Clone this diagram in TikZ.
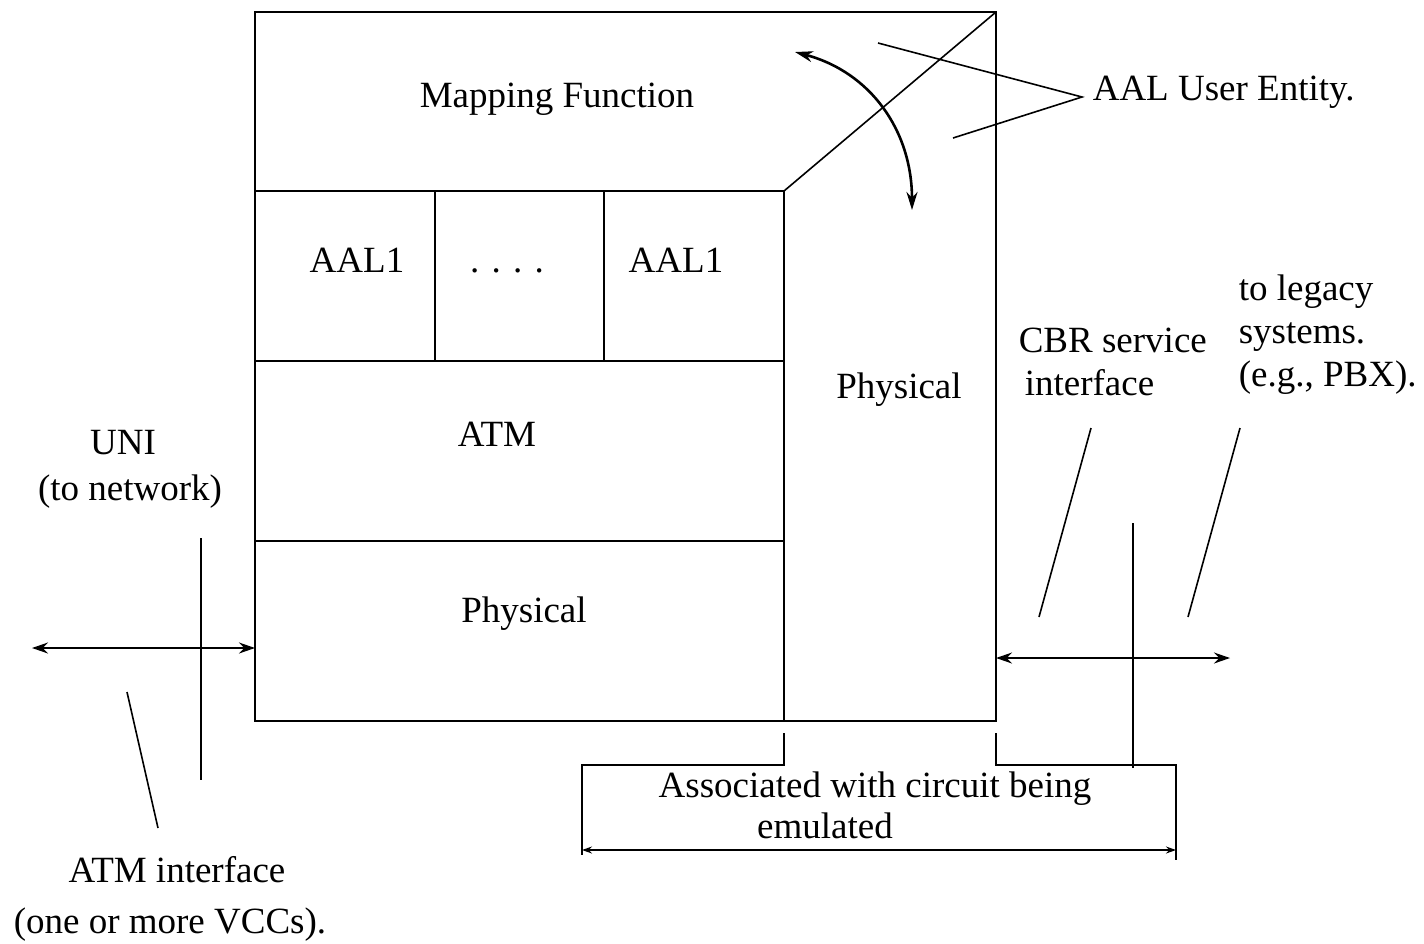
\documentclass[tikz,border=0pt]{standalone}
\usepackage{fontspec}
\setmainfont{Liberation Serif}
\usetikzlibrary{arrows.meta}
\begin{document}
\begin{tikzpicture}[x=1pt,y=-1pt,line width=1.6pt,
  lbl/.style={font=\fontsize{37}{44}\selectfont,inner sep=0pt},
  dbl/.style={{Stealth[length=16pt,width=11pt]}-{Stealth[length=16pt,width=11pt]}},
  curv/.style={line width=2.6pt,{Stealth[length=18pt,width=11pt]}-{Stealth[length=18pt,width=11pt]}},
  dim/.style={line width=1.4pt,{Stealth[length=10pt,width=7pt,open]}-{Stealth[length=10pt,width=7pt,open]}}]
\useasboundingbox (0,0) rectangle (1424,943);
% outer box and layers
\coordinate (tl) at (255,12);
\coordinate (br) at (996,721);
\coordinate (tr) at (996,12);
\coordinate (corner) at (784,191);
\draw (tl) rectangle (br);
\draw (255,191) -- (corner) -- (tr);
\draw (corner) -- (784,721);
\draw (255,361) -- (784,361);
\draw (255,541) -- (784,541);
\draw (435,191) -- (435,361);
\draw (604,191) -- (604,361);
% texts in boxes
\node[lbl,anchor=base] (map) at (557,107) {Mapping Function};
\node[lbl,anchor=base] (aal1a) at (357,272) {AAL1};
\node[lbl,anchor=base] (dots) at (507,272) {. . . .};
\node[lbl,anchor=base] (aal1b) at (676,272) {AAL1};
\node[lbl,anchor=base] (atm) at (497,446) {ATM};
\node[lbl,anchor=base] (phys) at (524,622) {Physical};
\node[lbl,anchor=base] (physr) at (899,398) {Physical};
% AAL user entity
\node[lbl,anchor=base west] (aue) at (1092,100) {AAL User Entity.};
\coordinate (auep) at (1082,97);
\coordinate (aue1) at (878,43);
\coordinate (aue2) at (953,138);
\draw (aue1) -- (auep) -- (aue2);
% curved arrow
\coordinate (ca) at (795,52);
\coordinate (cb) at (912,210);
\draw[curv] (ca) .. controls (870,72) and (912,130) .. (cb);
% left side
\node[lbl,anchor=base] (uni) at (123,454) {UNI};
\node[lbl,anchor=base] (tonet) at (130,500) {(to network)};
\coordinate (la) at (32,648);
\coordinate (lb) at (255,648);
\draw[dbl] (la) -- (lb);
\coordinate (lv1) at (201,538);
\coordinate (lv2) at (201,780);
\draw (lv1) -- (lv2);
\coordinate (ls1) at (127,692);
\coordinate (ls2) at (158,828);
\draw (ls1) -- (ls2);
\node[lbl,anchor=base] (atmif) at (177,882) {ATM interface};
\node[lbl,anchor=base] (vccs) at (170,933) {(one or more VCCs).};
% right side
\node[lbl,anchor=base west] (cbr) at (1018,352) {CBR service};
\node[lbl,anchor=base west] (cbrif) at (1024,395) {interface};
\node[lbl,anchor=base west] (leg1) at (1238,300) {to legacy};
\node[lbl,anchor=base west] (leg2) at (1238,343) {systems.};
\node[lbl,anchor=base west] (leg3) at (1238,386) {(e.g., PBX).};
\coordinate (ra) at (996,658);
\coordinate (rb) at (1230,658);
\draw[dbl] (ra) -- (rb);
\coordinate (rv1) at (1133,523);
\coordinate (rv2) at (1133,768);
\draw (rv1) -- (rv2);
\draw (1091,428) -- (1039,617);
\draw (1240,428) -- (1188,617);
% bottom bracket
\coordinate (b1) at (784,733);
\coordinate (b2) at (996,733);
\coordinate (bl) at (582,850);
\coordinate (brr) at (1176,850);
\draw (b1) -- (784,765) -- (582,765) -- (582,855);
\draw (b2) -- (996,765) -- (1176,765) -- (1176,860);
\draw[dim] (bl) -- (brr);
\node[lbl,anchor=base] (assoc) at (875,797) {Associated with circuit being};
\node[lbl,anchor=base] (emu) at (825,838) {emulated};
\end{tikzpicture}
\end{document}
